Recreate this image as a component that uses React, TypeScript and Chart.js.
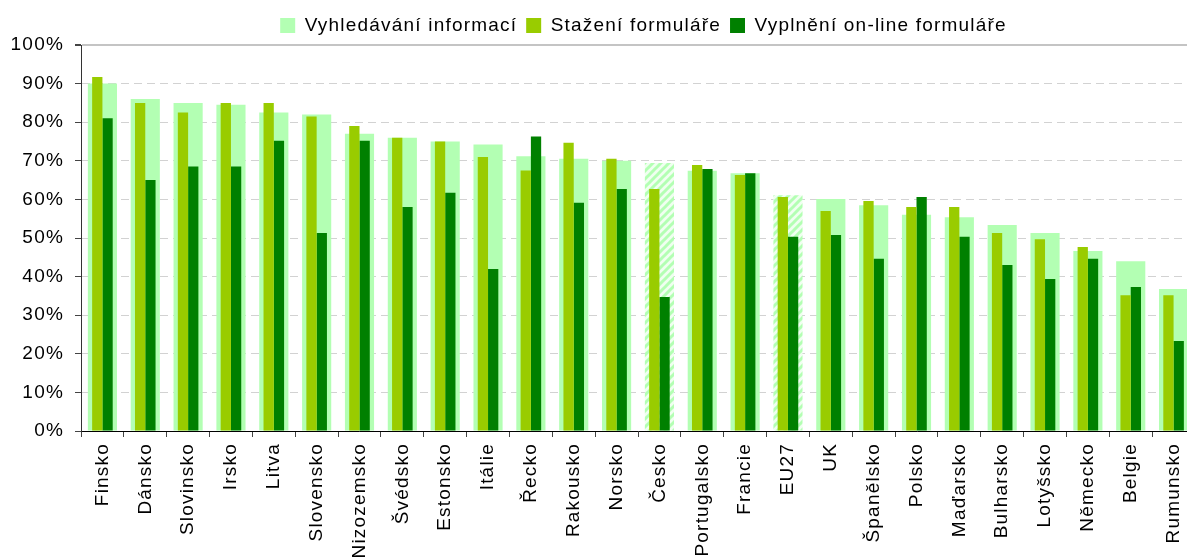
import React, { useEffect, useRef } from "react";
import { Chart, registerables } from "chart.js";

Chart.register(...registerables);

const categories = [
  "Finsko", "Dánsko", "Slovinsko", "Irsko", "Litva", "Slovensko", "Nizozemsko",
  "Švédsko", "Estonsko", "Itálie", "Řecko", "Rakousko", "Norsko", "Česko",
  "Portugalsko", "Francie", "EU27", "UK", "Španělsko", "Polsko", "Maďarsko",
  "Bulharsko", "Lotyšsko", "Německo", "Belgie", "Rumunsko",
];

const vyhledavaniInformaci = [
  90, 86, 85, 84.5, 82.5, 82, 77, 76, 75, 74.2, 71.2, 70.5, 70, 69.4,
  67.4, 66.8, 61.1, 60.1, 58.5, 56, 55.4, 53.4, 51.3, 46.6, 44, 36.8,
];

const stazeniFormulare = [
  91.7, 85, 82.5, 85, 85, 81.5, 79, 76, 75, 71, 67.5, 74.7, 70.5, 62.7,
  68.9, 66.3, 60.6, 57, 59.6, 58, 58, 51.3, 49.7, 47.7, 35.2, 35.2,
];

const vyplneniOnlineFormulare = [
  81, 65, 68.5, 68.5, 75.2, 51.3, 75.2, 58, 61.7, 42, 76.3, 59.1, 62.7, 34.7,
  67.9, 66.8, 50.3, 50.8, 44.6, 60.6, 50.3, 43, 39.4, 44.6, 37.3, 23.3,
];

const seriesNames = [
  "Vyhledávání informací",
  "Stažení formuláře",
  "Vyplnění on-line formuláře",
];

const hatchedCategories = ["Česko", "EU27"];

const yTicks = [0, 10, 20, 30, 40, 50, 60, 70, 80, 90, 100];

const FONT = "'Liberation Sans', Arial, sans-serif";
const LIGHT = "#b3ffb3";
const MID = "#99cc00";
const DARK = "#008000";

function makeHatch(ctx: CanvasRenderingContext2D): CanvasPattern | string {
  const c = document.createElement("canvas");
  c.width = 8;
  c.height = 8;
  const g = c.getContext("2d");
  if (!g) return LIGHT;
  g.fillStyle = "#f0fff0";
  g.fillRect(0, 0, 8, 8);
  g.strokeStyle = LIGHT;
  g.lineWidth = 3;
  g.beginPath();
  g.moveTo(-2, 10);
  g.lineTo(10, -2);
  g.moveTo(-2, 2);
  g.lineTo(2, -2);
  g.moveTo(6, 10);
  g.lineTo(10, 6);
  g.stroke();
  return ctx.createPattern(c, "repeat") || LIGHT;
}

const setSpacing = (chart: any) => {
  const ctx = chart.ctx as any;
  if (ctx && "letterSpacing" in ctx) ctx.letterSpacing = "1.2px";
};

const textSpacing = {
  id: "textSpacing",
  beforeUpdate: setSpacing,
  beforeLayout: setSpacing,
  beforeDraw: setSpacing,
};

const legendShift = {
  id: "legendShift",
  afterLayout(chart: any) {
    const l = chart.legend;
    if (l) {
      l.left += 46;
      l.right += 46;
    }
  },
};

export default function App() {
  const canvasRef = useRef<HTMLCanvasElement | null>(null);

  useEffect(() => {
    const canvas = canvasRef.current;
    if (!canvas) return;
    const ctx = canvas.getContext("2d");
    if (!ctx) return;
    const hatch = makeHatch(ctx);
    const lightColors = categories.map((c) =>
      hatchedCategories.includes(c) ? hatch : LIGHT
    );

    const chart = new Chart(ctx, {
      type: "bar",
      data: {
        labels: categories,
        datasets: [
          {
            label: seriesNames[0],
            data: vyhledavaniInformaci,
            backgroundColor: lightColors as any,
            borderWidth: 0,
            grouped: false,
            categoryPercentage: 0.68,
            barPercentage: 1,
            order: 2,
          } as any,
          {
            label: seriesNames[1],
            data: stazeniFormulare,
            backgroundColor: MID,
            borderWidth: 0,
            categoryPercentage: 0.48,
            barPercentage: 1,
            order: 1,
          },
          {
            label: seriesNames[2],
            data: vyplneniOnlineFormulare,
            backgroundColor: DARK,
            borderWidth: 0,
            categoryPercentage: 0.48,
            barPercentage: 1,
            order: 1,
          },
        ],
      },
      options: {
        animation: false,
        responsive: false,
        maintainAspectRatio: false,
        devicePixelRatio: 1,
        layout: { padding: { top: 7, left: 0, right: 0, bottom: 0 } },
        plugins: {
          tooltip: { enabled: false },
          legend: {
            position: "top",
            align: "center",
            labels: {
              boxWidth: 15,
              boxHeight: 15,
              padding: 9,
              color: "#000",
              font: { family: FONT, size: 19 },
              sort: (a: any, b: any) => a.datasetIndex - b.datasetIndex,
            },
          },
        },
        scales: {
          x: {
            offset: true,
            grid: {
              display: true,
              drawOnChartArea: false,
              drawTicks: true,
              tickLength: 6,
              tickColor: "#444",
              offset: true,
            },
            border: { display: true, color: "#000", width: 1 },
            ticks: {
              autoSkip: false,
              minRotation: 90,
              maxRotation: 90,
              padding: 6,
              color: "#000",
              font: { family: FONT, size: 19 },
            },
            afterFit: (s: any) => {
              s.height = 128;
              s.paddingLeft = 0;
              s.paddingRight = 0;
            },
          } as any,
          y: {
            min: 0,
            max: 100,
            afterBuildTicks: (s: any) => {
              s.ticks = yTicks.map((v) => ({ value: v }));
            },
            grid: {
              color: (c: any) =>
                c.tick && c.tick.value === 100 ? "#c4c4c4" : "#d2d2d2",
              lineWidth: (c: any) => (c.tick && c.tick.value === 100 ? 2 : 1),
              tickColor: "#444",
              tickLength: 6,
              drawTicks: true,
            },
            border: {
              display: true,
              color: "#333",
              width: 1,
              dash: (c: any) =>
                c.tick && c.tick.value > 0 && c.tick.value < 100 ? [8, 5] : [],
            },
            ticks: {
              padding: 11,
              color: "#000",
              font: { family: FONT, size: 19 },
              callback: (v: any) => `${v}%`,
            },
            afterFit: (s: any) => {
              s.width = 81;
              s.paddingTop = 0;
              s.paddingBottom = 0;
            },
          } as any,
        },
      },
      plugins: [textSpacing, legendShift],
    });

    return () => chart.destroy();
  }, []);

  return (
    <div
      style={{
        position: "fixed",
        left: 0,
        top: 0,
        width: 1187,
        height: 559,
        overflow: "hidden",
        background: "#fff",
      }}
    >
      <canvas
        ref={canvasRef}
        width={1195}
        height={559}
        style={{ display: "block", width: 1195, height: 559 }}
      />
    </div>
  );
}
